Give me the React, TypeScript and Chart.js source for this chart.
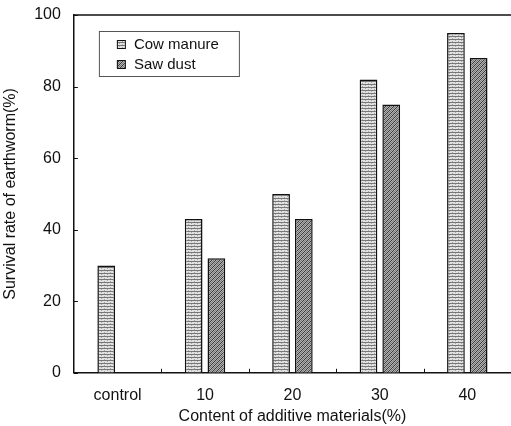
import React, { useEffect, useRef } from "react";
import { Chart, registerables } from "chart.js";

Chart.register(...registerables);

const categories = ["control", "10", "20", "30", "40"];
const cowManure = [30, 43, 50, 82, 95];
const sawDust = [null, 32, 43, 75, 88];
const seriesLabels = ["Cow manure", "Saw dust"];
const yTicks = [0, 20, 40, 60, 80, 100];
const xTitle = "Content of additive materials(%)";
const yTitle = "Survival rate of earthworm(%)";

const FONT = "'Liberation Sans', Arial, sans-serif";

function makeCowPattern(ctx: CanvasRenderingContext2D) {
  const c = document.createElement("canvas");
  c.width = 6;
  c.height = 3;
  const g = c.getContext("2d")!;
  g.fillStyle = "#e2e2e2";
  g.fillRect(0, 0, 6, 3);
  g.fillStyle = "#777777";
  g.fillRect(0, 0, 6, 1);
  g.fillStyle = "#a8a8a8";
  g.fillRect(2, 2, 1, 1);
  g.fillRect(5, 1, 1, 1);
  return ctx.createPattern(c, "repeat")!;
}

function makeSawPattern(ctx: CanvasRenderingContext2D) {
  const c = document.createElement("canvas");
  c.width = 4;
  c.height = 4;
  const g = c.getContext("2d")!;
  g.fillStyle = "#b0b0b0";
  g.fillRect(0, 0, 4, 4);
  g.fillStyle = "#3a3a3a";
  for (let i = 0; i < 4; i++) {
    g.fillRect(3 - i, i, 1, 1);
  }
  g.fillStyle = "#7a7a7a";
  for (let i = 0; i < 4; i++) {
    g.fillRect((5 - i) % 4, i, 1, 1);
  }
  return ctx.createPattern(c, "repeat")!;
}

const decorPlugin = {
  id: "decor",
  afterDraw(chart: any) {
    const ctx = chart.ctx as CanvasRenderingContext2D;
    const { left, right, top, bottom } = chart.chartArea;
    const xs = chart.scales.x;
    const ys = chart.scales.y;
    ctx.save();
    ctx.strokeStyle = "#111";
    // top border
    ctx.lineWidth = 1.5;
    ctx.beginPath();
    ctx.moveTo(left, top);
    ctx.lineTo(right, top);
    ctx.stroke();
    // inside y ticks
    ctx.lineWidth = 1;
    yTicks.forEach((v) => {
      const y = Math.round(ys.getPixelForValue(v)) + 0.5;
      ctx.beginPath();
      ctx.moveTo(left, y);
      ctx.lineTo(left + 4, y);
      ctx.stroke();
    });
    // inside x minor ticks at category boundaries
    for (let i = 1; i < categories.length; i++) {
      const x = Math.round((xs.getPixelForTick(i - 1) + xs.getPixelForTick(i)) / 2) + 0.5;
      ctx.beginPath();
      ctx.moveTo(x, bottom);
      ctx.lineTo(x, bottom - 4);
      ctx.stroke();
    }
    // x axis title
    ctx.fillStyle = "#111";
    ctx.font = `16px ${FONT}`;
    ctx.textAlign = "center";
    ctx.textBaseline = "middle";
    ctx.fillText(xTitle, (left + right) / 2, bottom + 44);
    // legend box
    const bx = left + 25;
    const by = top + 16;
    const bw = 140;
    const bh = 45;
    ctx.strokeStyle = "#555";
    ctx.lineWidth = 1;
    ctx.strokeRect(bx + 0.5, by + 0.5, bw, bh);
    ctx.font = `15px ${FONT}`;
    ctx.textBaseline = "middle";
    ctx.textAlign = "left";
    chart.data.datasets.forEach((ds: any, i: number) => {
      const cy = by + 13 + i * 20;
      ctx.fillStyle = ds.backgroundColor;
      ctx.fillRect(bx + 18, cy - 4, 8, 8);
      ctx.strokeStyle = "#111";
      ctx.strokeRect(bx + 18.5, cy - 3.5, 8, 8);
      ctx.fillStyle = "#111";
      ctx.fillText(ds.label, bx + 35, cy + 1);
    });
    ctx.restore();
  },
};

export default function App() {
  const ref = useRef<HTMLCanvasElement | null>(null);
  useEffect(() => {
    const canvas = ref.current!;
    const ctx = canvas.getContext("2d")!;
    const cowPat = makeCowPattern(ctx);
    const sawPat = makeSawPattern(ctx);
    const chart = new Chart(ctx, {
      type: "bar",
      data: {
        labels: categories,
        datasets: [
          {
            label: seriesLabels[0],
            data: cowManure,
            backgroundColor: cowPat as any,
            borderColor: "#111",
            borderWidth: 1.5,
            categoryPercentage: 0.52,
            barPercentage: 0.78,
          },
          {
            label: seriesLabels[1],
            data: sawDust as any,
            backgroundColor: sawPat as any,
            borderColor: "#111",
            borderWidth: 1.5,
            categoryPercentage: 0.52,
            barPercentage: 0.78,
          },
        ],
      },
      options: {
        responsive: false,
        animation: false,
        layout: { padding: { top: 0, right: 0, left: 0, bottom: 8 } },
        plugins: {
          legend: { display: false },
          tooltip: { enabled: false },
        },
        scales: {
          x: {
            grid: { display: false, drawOnChartArea: false, drawTicks: false },
            border: { color: "#111", width: 1.5 },
            ticks: { color: "#111", font: { family: FONT, size: 16 }, padding: 13 },
          },
          y: {
            min: 0,
            max: 100,
            grid: { display: false, drawOnChartArea: false, drawTicks: false },
            border: { color: "#111", width: 1.5 },
            ticks: {
              stepSize: 20,
              color: "#111",
              font: { family: FONT, size: 16, lineHeight: 0.25 },
              padding: 13,
            },
            title: {
              display: true,
              text: yTitle,
              color: "#111",
              font: { family: FONT, size: 16 },
              padding: { top: 1, bottom: 1 },
            },
          },
        },
      },
      plugins: [decorPlugin],
    });
    return () => chart.destroy();
  }, []);
  return (
    <div style={{ position: "absolute", left: 0, top: 0, width: 511, height: 426, background: "#fff" }}>
      <canvas ref={ref} width={511} height={426} style={{ display: "block" }} />
    </div>
  );
}
